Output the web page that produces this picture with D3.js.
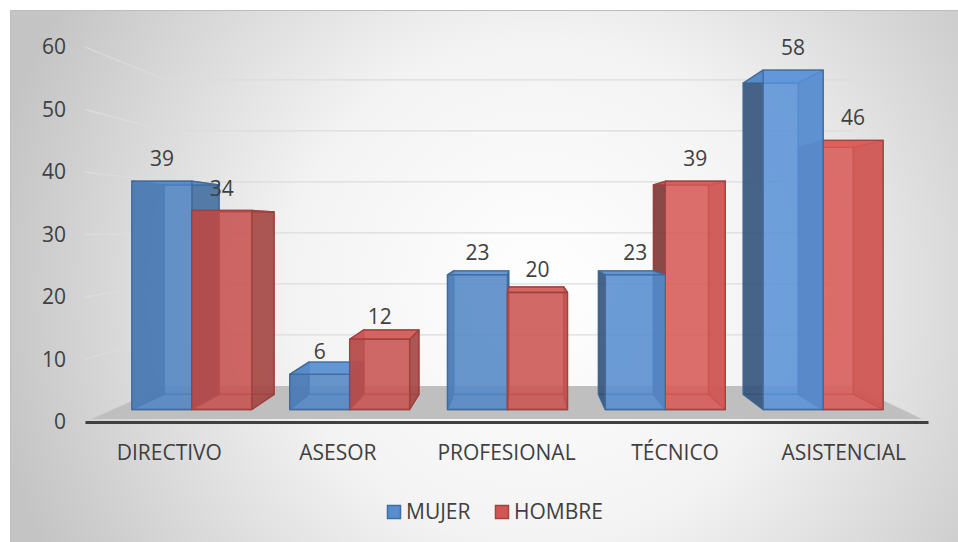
<!DOCTYPE html>
<html>
<head>
<meta charset="utf-8">
<script src="https://cdn.jsdelivr.net/npm/d3@7"></script>
<style>
  body { margin: 0; background: #fff; }
  svg { display: block; }
</style>
</head>
<body>
<div id="chart"></div>
<script>
// data
const categories = ["DIRECTIVO", "ASESOR", "PROFESIONAL", "TÉCNICO", "ASISTENCIAL"];
const seriesNames = ["MUJER", "HOMBRE"];
const mujer = [39, 6, 23, 23, 58];
const hombre = [34, 12, 20, 39, 46];
const yTicks = [0, 10, 20, 30, 40, 50, 60];

const W = 958, H = 542;
const baseColor = { MUJER: "#4f81bd", HOMBRE: "#c0504d" };
const FS = 21;

// perspective: vanishing point and depth scale of each plane
const VX = 522, VY = 226;
const S_FRONT = 0.936, S_BACK = 0.859, S_WALL = 0.816, S_FLOOR = 0.985;
function proj(X, Y, s) { return [VX + (X - VX) * s, VY + (Y - VY) * s]; }

const svg = d3.select("#chart").append("svg")
    .attr("width", W).attr("height", H)
    .style("font-family", "'Open Sans', sans-serif");

// background
const defs = svg.append("defs");
const bg = defs.append("radialGradient").attr("id", "bg")
    .attr("gradientUnits", "userSpaceOnUse")
    .attr("cx", 540).attr("cy", 290).attr("r", 560);
bg.append("stop").attr("offset", "0%").attr("stop-color", "#ffffff");
bg.append("stop").attr("offset", "45%").attr("stop-color", "#f3f3f3");
bg.append("stop").attr("offset", "100%").attr("stop-color", "#c4c4c4");

svg.append("rect")
    .attr("x", 10.5).attr("y", 10.5)
    .attr("width", W - 10).attr("height", H - 10)
    .attr("fill", "url(#bg)")
    .attr("stroke", "#bdbdbd");

// scales (in the front plane)
const x0 = d3.scaleBand().domain(categories).range([85, 928])
    .paddingInner(0.24).paddingOuter(0.12);
const x1 = d3.scaleBand().domain(seriesNames).range([0, x0.bandwidth()]);
const y = d3.scaleLinear().domain([0, 60]).range([422, 47]);

const line = d3.line();

// side wall + back wall gridlines
svg.append("g").selectAll("path")
  .data(yTicks.filter(d => d > 0))
  .join("path")
    .attr("d", d => line([proj(85, y(d), 1), proj(85, y(d), S_WALL), proj(928, y(d), S_WALL)]))
    .attr("fill", "none")
    .attr("stroke", "#dcdcdc")
    .attr("stroke-width", 1.3);

// floor
svg.append("path")
    .attr("d", line([proj(85, y(0), S_FLOOR), proj(928, y(0), S_FLOOR),
                     proj(928, y(0), S_WALL), proj(85, y(0), S_WALL)]) + "Z")
    .attr("fill", "#bfbfbf");

// axes
const xAxis = svg.append("g")
    .attr("transform", `translate(0, ${y(0)})`)
    .call(d3.axisBottom(x0).tickSize(0).tickSizeOuter(0).tickPadding(23));
xAxis.select(".domain").attr("stroke", "#404040").attr("stroke-width", 3);
xAxis.selectAll("text").attr("font-size", FS).attr("fill", "#404040")
    .attr("font-family", "'Open Sans', sans-serif");

const yAxis = svg.append("g")
    .attr("transform", "translate(85, 0)")
    .call(d3.axisLeft(y).tickValues(yTicks).tickSize(0).tickPadding(19));
yAxis.select(".domain").remove();
yAxis.selectAll("text").attr("font-size", FS).attr("fill", "#404040")
    .attr("font-family", "'Open Sans', sans-serif");

// bars as boxes
const bars = [];
categories.forEach((c, i) => {
  [[seriesNames[0], mujer[i]], [seriesNames[1], hombre[i]]].forEach(([s, v]) => {
    const X0 = x0(c) + x1(s), X1 = X0 + x1.bandwidth();
    bars.push({ cat: c, series: s, value: v, X0, X1, cx: (X0 + X1) / 2 });
  });
});
// farther from vanishing point first
bars.sort((a, b) => Math.abs(b.cx - VX) - Math.abs(a.cx - VX));

const shine = d3.scaleLinear().domain([85, VX, 780, 928]).range([0.1, 0.15, 0.45, 0.35]).clamp(true);

const barG = svg.append("g");
bars.forEach(b => {
  const base = d3.color(baseColor[b.series]);
  const edge = base.darker(0.6).formatHex();
  const yt = y(b.value), yb = y(0);
  const F = {
    tl: proj(b.X0, yt, S_FRONT), tr: proj(b.X1, yt, S_FRONT),
    br: proj(b.X1, yb, S_FRONT), bl: proj(b.X0, yb, S_FRONT)
  };
  const B = {
    tl: proj(b.X0, yt, S_BACK), tr: proj(b.X1, yt, S_BACK),
    br: proj(b.X1, yb, S_BACK), bl: proj(b.X0, yb, S_BACK)
  };
  const faces = [
    { pts: [B.tl, B.tr, B.br, B.bl], fill: base.formatHex(), op: 0.5 },
    { pts: [B.bl, B.br, F.br, F.bl], fill: base.formatHex(), op: 0.5 },
    { pts: [B.tl, F.tl, F.bl, B.bl], fill: base.darker(1.4).formatHex(), op: 0.8 },
    { pts: [F.tr, B.tr, B.br, F.br], fill: base.darker(0.5).formatHex(), op: 0.8 },
    { pts: [B.tl, B.tr, F.tr, F.tl], fill: base.brighter(0.3).formatHex(), op: 0.85 },
    { pts: [F.tl, F.tr, F.br, F.bl], fill: base.brighter(shine(b.cx)).formatHex(), op: 0.75 }
  ];
  const g = barG.append("g");
  g.selectAll("path")
    .data(faces)
    .join("path")
      .attr("d", d => line(d.pts) + "Z")
      .attr("fill", d => d.fill)
      .attr("fill-opacity", d => d.op)
      .attr("stroke", edge)
      .attr("stroke-width", 1.4)
      .attr("stroke-opacity", 0.85)
      .attr("stroke-linejoin", "round");
});

// data labels
svg.append("g").selectAll("text")
  .data(bars)
  .join("text")
    .attr("x", d => proj(d.cx, y(d.value), S_FRONT)[0])
    .attr("y", d => proj(d.cx, y(d.value), S_FRONT)[1] - 15)
    .attr("text-anchor", "middle")
    .attr("font-size", FS)
    .attr("fill", "#404040")
    .text(d => d.value);

// legend
const legend = svg.append("g");
const legendX = [387, 495];
seriesNames.forEach((s, i) => {
  legend.append("rect")
    .attr("x", legendX[i] + 0.5).attr("y", 505.5)
    .attr("width", 13).attr("height", 13)
    .attr("fill", d3.color(baseColor[s]).brighter(0.25))
    .attr("stroke", d3.color(baseColor[s]).darker(0.5))
    .attr("stroke-width", 1.5);
  legend.append("text")
    .attr("x", legendX[i] + 19).attr("y", 519)
    .attr("font-size", FS)
    .attr("fill", "#404040")
    .text(s);
});
</script>
</body>
</html>
